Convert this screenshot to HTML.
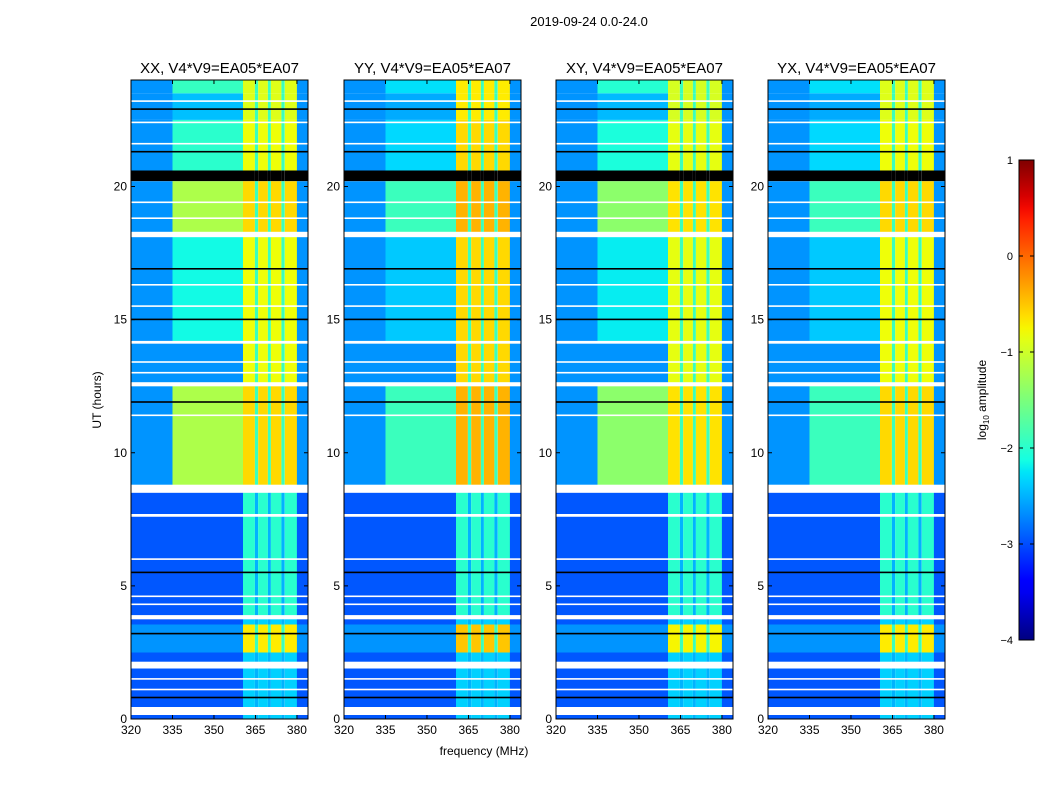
<!DOCTYPE html>
<html><head><meta charset="utf-8"><style>
body{margin:0;background:#fff;font-family:"Liberation Sans",sans-serif}
svg text{font-family:"Liberation Sans",sans-serif}
</style></head><body>
<svg id="fig" width="1050" height="800" xmlns="http://www.w3.org/2000/svg">
<text x="589" y="26" font-size="13" text-anchor="middle">2019-09-24 0.0-24.0</text>
<text x="484" y="755" font-size="12" text-anchor="middle">frequency (MHz)</text>
<text transform="translate(101,400) rotate(-90)" font-size="12" text-anchor="middle">UT (hours)</text>
<g id="panels"></g>
<g id="cbar"></g>
</svg>
<script>
// panel titles and per-panel levels
const panelTitles = ["XX, V4*V9=EA05*EA07","YY, V4*V9=EA05*EA07","XY, V4*V9=EA05*EA07","YX, V4*V9=EA05*EA07"];
const hiPeak = [-0.6, -0.4, -0.65, -0.6];
const blobPeak = [-1.2, -1.9, -1.4, -1.9];
// time segments: start hour, end hour, activity (0..1, -1 flagged white, -2 black), blob flag
const segStart = [0,0.15,0.45,1.9,2.15,2.5,3.55,3.75,3.9,7.6,7.7,8.5,8.8,12.5,12.65,14.1,14.2,18.1,18.3,20.2,20.6,22.5,23.5];
const segEnd   = [0.15,0.45,1.9,2.15,2.5,3.55,3.75,3.9,7.6,7.7,8.5,8.8,12.5,12.65,14.1,14.2,18.1,18.3,20.2,20.6,22.5,23.5,24];
const segAct   = [0.3,-1,0.3,-1,0.3,0.95,0.3,-1,0.5,-1,0.55,-1,1.0,-1,0.9,-1,0.9,-1,1.0,-2,0.9,0.85,0.85];
const segBlob  = [0,0,0,0,0,0,0,0,0,0,0,0,1,0,0,0,0.35,0,1,0,0.45,0.15,0.5];
// thin flagged lines (hours)
const flagLines = [23.2,22.9,22.4,21.6,21.3,19.4,18.8,16.9,16.3,15.5,15.0,13.4,13.0,11.9,11.4,6.0,5.5,4.6,4.3,3.2,1.5,1.1,0.8];
// frequency columns (MHz) and type
const colStart = [320,335,360.5,364.8,366,369.5,370.6,374.4,375.6,380];
const colEnd   = [335,360.5,364.8,366,369.5,370.6,374.4,375.6,380,384];
const colType  = ["bg","blob","hi","gap","hi","gap","hi","gap","hi","bg"];
const xTicks = [320,335,350,365,380];
const yTicks = [0,5,10,15,20];
const cbTicks = [1,0,-1,-2,-3,-4];
const panelX = [131,344,556,768];
const PW=177, PT=80, PB=719;
const NS="http://www.w3.org/2000/svg";
function interp(t,pts){for(let i=1;i<pts.length;i++){if(t<=pts[i][0]){const a=pts[i-1],b=pts[i];return a[1]+(b[1]-a[1])*(t-a[0])/(b[0]-a[0]);}}return pts[pts.length-1][1];}
function jet(v){let t=(v+4)/5;t=Math.max(0,Math.min(1,t));
 const r=interp(t,[[0,0],[0.35,0],[0.66,1],[0.89,1],[1,0.5]]);
 const g=interp(t,[[0,0],[0.125,0],[0.375,1],[0.64,1],[0.91,0],[1,0]]);
 const b=interp(t,[[0,0.5],[0.11,1],[0.34,1],[0.65,0],[1,0]]);
 return `rgb(${Math.round(r*255)},${Math.round(g*255)},${Math.round(b*255)})`;}
function mk(tag,attrs,parent){const e=document.createElementNS(NS,tag);for(const k in attrs)e.setAttribute(k,attrs[k]);parent.appendChild(e);return e;}
const yS=t=>PB-(t/24)*(PB-PT);
const panels=document.getElementById('panels');
panelX.forEach((x0,p)=>{
 const xS=f=>x0+(f-320)*(PW/64);
 const g=mk('g',{},panels);
 
 
 for(let i=0;i<segStart.length;i++){
  const y1=yS(segEnd[i]),y2=yS(segStart[i]);const a=segAct[i];
  for(let j=0;j<colStart.length;j++){
   let fill;
   if(a===-1)fill='#fff';else if(a===-2)fill='#000';else{
    const ty=colType[j];const active=a>0.8;let v;
    if(ty==='hi')v=active?hiPeak[p]-(1-a)*2:(a>0.4?-2.0:-2.35);
    else if(ty==='gap')v=active?-1.9:-2.5;
    else{v=active?-2.65:-2.95;if(ty==='blob'&&segBlob[i])v=v+(blobPeak[p]-v)*segBlob[i];}
    fill=jet(v);}
   const r=mk('rect',{x:xS(colStart[j]).toFixed(1),y:y1.toFixed(1),width:(xS(colEnd[j])-xS(colStart[j])).toFixed(1),height:(y2-y1).toFixed(1),fill:fill},g);
   
   
  }
 }
 flagLines.forEach((h,k)=>{const l=mk('rect',{x:x0,y:(yS(h)-1).toFixed(1),width:PW,height:1.6,fill:k%3===1?'#000':'#fff'},g);
  
  });
 const fr=mk('rect',{x:x0,y:PT,width:PW,height:PB-PT,fill:'none',stroke:'#000','stroke-width':1},g);
 
 
 const tt=mk('text',{x:x0+PW/2,y:PT-7,'font-size':15,'text-anchor':'middle'},g);tt.textContent=panelTitles[p];
 
 
 xTicks.forEach(v=>{const x=xS(v);mk('line',{x1:x,x2:x,y1:PB,y2:PB-4,stroke:'#000'},g);mk('line',{x1:x,x2:x,y1:PT,y2:PT+4,stroke:'#000'},g);
  const t=mk('text',{x:x,y:PB+15,'font-size':12,'text-anchor':'middle'},g);t.textContent=v;
  
  });
 yTicks.forEach(v=>{const y=yS(v);mk('line',{x1:x0,x2:x0+4,y1:y,y2:y,stroke:'#000'},g);mk('line',{x1:x0+PW,x2:x0+PW-4,y1:y,y2:y,stroke:'#000'},g);
  const t=mk('text',{x:x0-4,y:y+4,'font-size':12,'text-anchor':'end'},g);t.textContent=v;
  
  });
});
// colorbar
const cb=document.getElementById('cbar');
const CX=1019,CW=15,CT=160,CB=640;
const defs=mk('defs',{},cb);const lg=mk('linearGradient',{id:'jg',x1:0,y1:1,x2:0,y2:0},defs);
for(let i=0;i<=40;i++){mk('stop',{offset:i/40,'stop-color':jet(-4+5*i/40)},lg);}
const cr=mk('rect',{x:CX,y:CT,width:CW,height:CB-CT,fill:'url(#jg)',stroke:'#000'},cb);


cbTicks.forEach(v=>{const y=CB-(v+4)/5*(CB-CT);mk('line',{x1:CX,x2:CX+4,y1:y,y2:y,stroke:'#000'},cb);mk('line',{x1:CX+CW,x2:CX+CW-4,y1:y,y2:y,stroke:'#000'},cb);
 const t=mk('text',{x:CX-6,y:y+4,'font-size':11,'text-anchor':'end'},cb);t.textContent=v<0?'\u2212'+(-v):v;
 
 });
const cl=mk('text',{transform:'translate(986,400) rotate(-90)','font-size':12,'text-anchor':'middle'},cb);
cl.innerHTML='log<tspan font-size="8" dy="3">10</tspan><tspan dy="-3"> amplitude</tspan>';


</script>
</body></html>
